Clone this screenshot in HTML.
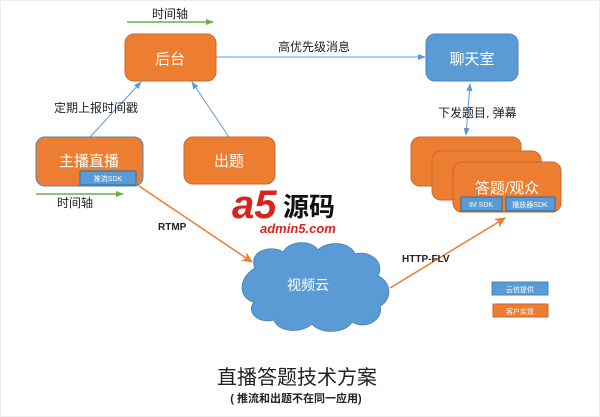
<!DOCTYPE html>
<html><head><meta charset="utf-8"><style>
body{margin:0;background:#fff}
svg{display:block;font-family:"Liberation Sans","Noto Sans CJK SC",sans-serif}
</style></head><body>
<svg width="600" height="417" viewBox="0 0 600 417">
<defs>
<marker id="bl" markerWidth="8" markerHeight="8" refX="7" refY="4" orient="auto" markerUnits="userSpaceOnUse"><path d="M0,1 L8,4 L0,7z" fill="#5b9bd5"/></marker>
<marker id="bls" markerWidth="8" markerHeight="8" refX="1" refY="4" orient="auto" markerUnits="userSpaceOnUse"><path d="M8,1 L0,4 L8,7z" fill="#5b9bd5"/></marker>
<marker id="gr" markerWidth="8" markerHeight="8" refX="7" refY="4" orient="auto" markerUnits="userSpaceOnUse"><path d="M0,1 L8,4 L0,7z" fill="#70ad47"/></marker>
<marker id="or" markerWidth="12" markerHeight="12" refX="10" refY="6" orient="auto" markerUnits="userSpaceOnUse"><path d="M0,1 L11,6 L0,11 L3,6z" fill="#ed7d31"/></marker>
</defs>
<rect x="0.5" y="0.5" width="599" height="416" fill="#fff" stroke="#eee"/>
<!-- green timeline arrows -->
<line x1="127" y1="22" x2="213" y2="22" stroke="#70ad47" stroke-width="1.5" marker-end="url(#gr)"/>
<text x="170" y="18" font-size="12" text-anchor="middle" fill="#222">时间轴</text>
<line x1="36" y1="194" x2="123" y2="194" stroke="#70ad47" stroke-width="1.5" marker-end="url(#gr)"/>
<text x="75" y="207" font-size="12" text-anchor="middle" fill="#222">时间轴</text>
<!-- blue connectors -->
<line x1="90" y1="137" x2="141" y2="82" stroke="#5b9bd5" marker-end="url(#bl)"/>
<line x1="229" y1="137" x2="192" y2="82" stroke="#5b9bd5" marker-end="url(#bl)"/>
<line x1="216" y1="57" x2="425" y2="57" stroke="#5b9bd5" marker-end="url(#bl)"/>
<line x1="470" y1="84" x2="466" y2="135" stroke="#5b9bd5" marker-start="url(#bls)" marker-end="url(#bl)"/>
<text x="54" y="112" font-size="12" fill="#222">定期上报时间戳</text>
<text x="278" y="51" font-size="12" fill="#222">高优先级消息</text>
<text x="438" y="117" font-size="12" fill="#222">下发题目, 弹幕</text>
<!-- orange connectors -->
<line x1="139" y1="186" x2="252" y2="262" stroke="#ed7d31" stroke-width="1.5" marker-end="url(#or)"/>
<line x1="390" y1="288" x2="505" y2="218" stroke="#ed7d31" stroke-width="1.5" marker-end="url(#or)"/>
<text x="158" y="230" font-size="10" font-weight="bold" fill="#222">RTMP</text>
<text x="402" y="262" font-size="10" font-weight="bold" fill="#222">HTTP-FLV</text>
<!-- boxes -->
<rect x="125" y="34" width="91" height="47" rx="9" fill="#ed7d31" stroke="#c9682a"/>
<text x="170" y="64" font-size="15" fill="#fff" text-anchor="middle">后台</text>
<rect x="426" y="34" width="92" height="47" rx="9" fill="#5b9bd5" stroke="#4a86bd"/>
<text x="472" y="64" font-size="15" fill="#fff" text-anchor="middle">聊天室</text>
<rect x="36" y="137" width="107" height="49" rx="9" fill="#ed7d31" stroke="#4a86bd"/>
<text x="89" y="166" font-size="15" fill="#fff" text-anchor="middle">主播直播</text>
<rect x="80" y="171" width="56" height="14" fill="#5b9bd5" stroke="#2e6da4"/>
<text x="108" y="181" font-size="7" fill="#fff" text-anchor="middle">推流SDK</text>
<rect x="184" y="137" width="91" height="47" rx="9" fill="#ed7d31" stroke="#c9682a"/>
<text x="229" y="166" font-size="15" fill="#fff" text-anchor="middle">出题</text>
<rect x="411" y="137" width="110" height="49" rx="9" fill="#ed7d31" stroke="#c9682a"/>
<rect x="432" y="151" width="109" height="49" rx="9" fill="#ed7d31" stroke="#c9682a"/>
<rect x="453" y="162" width="108" height="50" rx="9" fill="#ed7d31" stroke="#c9682a"/>
<text x="507" y="193" font-size="15" fill="#fff" text-anchor="middle">答题/观众</text>
<rect x="461" y="197" width="41" height="14" fill="#5b9bd5" stroke="#2e6da4"/>
<text x="481" y="207" font-size="7" fill="#fff" text-anchor="middle">IM SDK</text>
<rect x="506" y="197" width="49" height="14" fill="#5b9bd5" stroke="#2e6da4"/>
<text x="530" y="207" font-size="7" fill="#fff" text-anchor="middle">播放器SDK</text>
<!-- cloud -->
<path d="M255,268 C248,252 270,244 283,252 C290,240 312,240 318,250 C328,240 350,242 355,254 C370,250 385,262 378,276 C392,282 392,300 380,306 C384,320 365,330 352,322 C345,334 320,334 312,324 C300,334 278,332 274,320 C258,324 246,312 254,302 C238,298 238,278 255,268Z" fill="#5b9bd5" stroke="#4a86bd"/>
<text x="308" y="290" font-size="14" fill="#fff" text-anchor="middle">视频云</text>
<!-- watermark -->
<text x="232" y="218" font-size="40" font-weight="bold" font-style="italic" fill="#d9231d">a5</text>
<text x="283" y="216" font-size="26" font-weight="bold" fill="#111">源码</text>
<text x="260" y="233" font-size="13" font-weight="bold" font-style="italic" fill="#d9231d">admin5.com</text>
<!-- legend -->
<rect x="492" y="282" width="56" height="13" fill="#5b9bd5" stroke="#4a86bd"/>
<text x="520" y="292" font-size="7" fill="#fff" text-anchor="middle">云信提供</text>
<rect x="493" y="304" width="55" height="13" fill="#ed7d31" stroke="#c9682a"/>
<text x="520" y="314" font-size="7" fill="#fff" text-anchor="middle">客户实现</text>
<!-- title -->
<text x="297" y="384" font-size="20" fill="#222" text-anchor="middle">直播答题技术方案</text>
<text x="296" y="402" font-size="11" font-weight="bold" fill="#222" text-anchor="middle">( 推流和出题不在同一应用)</text>
</svg>
</body></html>
